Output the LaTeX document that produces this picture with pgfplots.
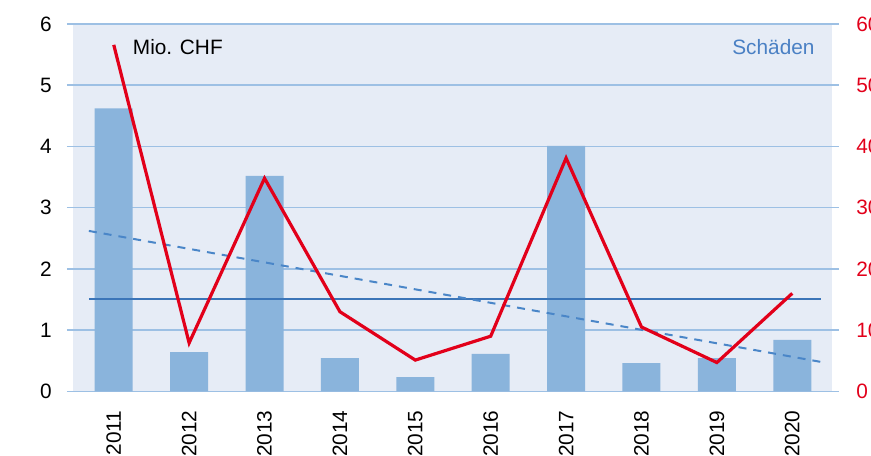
\documentclass[border=0pt]{standalone}
\usepackage{pgfplots}
\pgfplotsset{compat=1.18}
\usepackage{fontspec}
\setmainfont{Liberation Sans}
\definecolor{panel}{HTML}{E6ECF6}
\definecolor{gridc}{HTML}{9DC0E4}
\definecolor{barc}{HTML}{8AB4DC}
\definecolor{redc}{HTML}{E2001A}
\definecolor{meanc}{HTML}{3B75B8}
\definecolor{trendc}{HTML}{4A86C8}
\definecolor{txtblue}{HTML}{4A80C4}
\begin{document}
\begin{tikzpicture}[font=\fontsize{10.4}{12}\selectfont]
\fill[panel] (3pt,0pt) rectangle (382.5pt,183.65pt);
\begin{axis}[
  at={(0,0)}, anchor=south west,
  scale only axis, width=386pt, height=183.65pt,
  xmin=-0.62, xmax=9.62, ymin=0, ymax=6,
  ytick={0,1,...,6},
  xtick={0,...,9},
  xticklabels={2011,2012,2013,2014,2015,2016,2017,2018,2019,2020},
  /pgf/number format/assume math mode=true,
  axis line style={draw=none},
  major tick style={draw=none},
  ymajorgrids,
  grid style={color=gridc, line width=0.75pt},
  yticklabel style={anchor=east, inner sep=0pt, xshift=-7.5pt},
  xticklabel style={rotate=90, anchor=east, inner sep=0pt, xshift=-9.5pt},
  tick label style={font=\fontsize{10.4}{12}\selectfont},
]
\addplot[ybar, bar width=19pt, bar shift=0pt, fill=barc, draw=none] coordinates {
(0,4.62) (1,0.64) (2,3.52) (3,0.54) (4,0.23) (5,0.61) (6,4.01) (7,0.46) (8,0.54) (9,0.84)};
\addplot[color=meanc, line width=1pt, no marks] coordinates {(-0.33,1.5) (9.38,1.5)};
\addplot[color=trendc, line width=1pt, dash pattern=on 4pt off 3.5pt, no marks] coordinates {(-0.33,2.62) (9.38,0.48)};
\node[anchor=west, inner sep=0pt] at (axis cs:0.25,5.63) {Mio. CHF};
\node[anchor=east, inner sep=0pt, text=txtblue] at (axis cs:9.30,5.63) {Schäden};
\end{axis}
\begin{axis}[
  at={(0,0)}, anchor=south west,
  scale only axis, width=386pt, height=183.65pt,
  xmin=-0.62, xmax=9.62, ymin=0, ymax=60,
  ytick={0,10,...,60},
  axis y line*=right,
  hide x axis,
  /pgf/number format/assume math mode=true,
  axis line style={draw=none},
  major tick style={draw=none},
  yticklabel style={anchor=west, inner sep=0pt, xshift=8.5pt, text=redc},
  tick label style={font=\fontsize{10.4}{12}\selectfont},
]
\addplot[color=redc, line width=1.6pt, no marks, line join=miter] coordinates {
(0,56.6) (1,7.9) (2,34.8) (3,13.0) (4,5.1) (5,9.0) (6,38.1) (7,10.5) (8,4.7) (9,16.0)};
\end{axis}
\pgfresetboundingbox
\path[use as bounding box] (-33.5pt,-31.85pt) rectangle (402pt,195.65pt);
\end{tikzpicture}
\end{document}
